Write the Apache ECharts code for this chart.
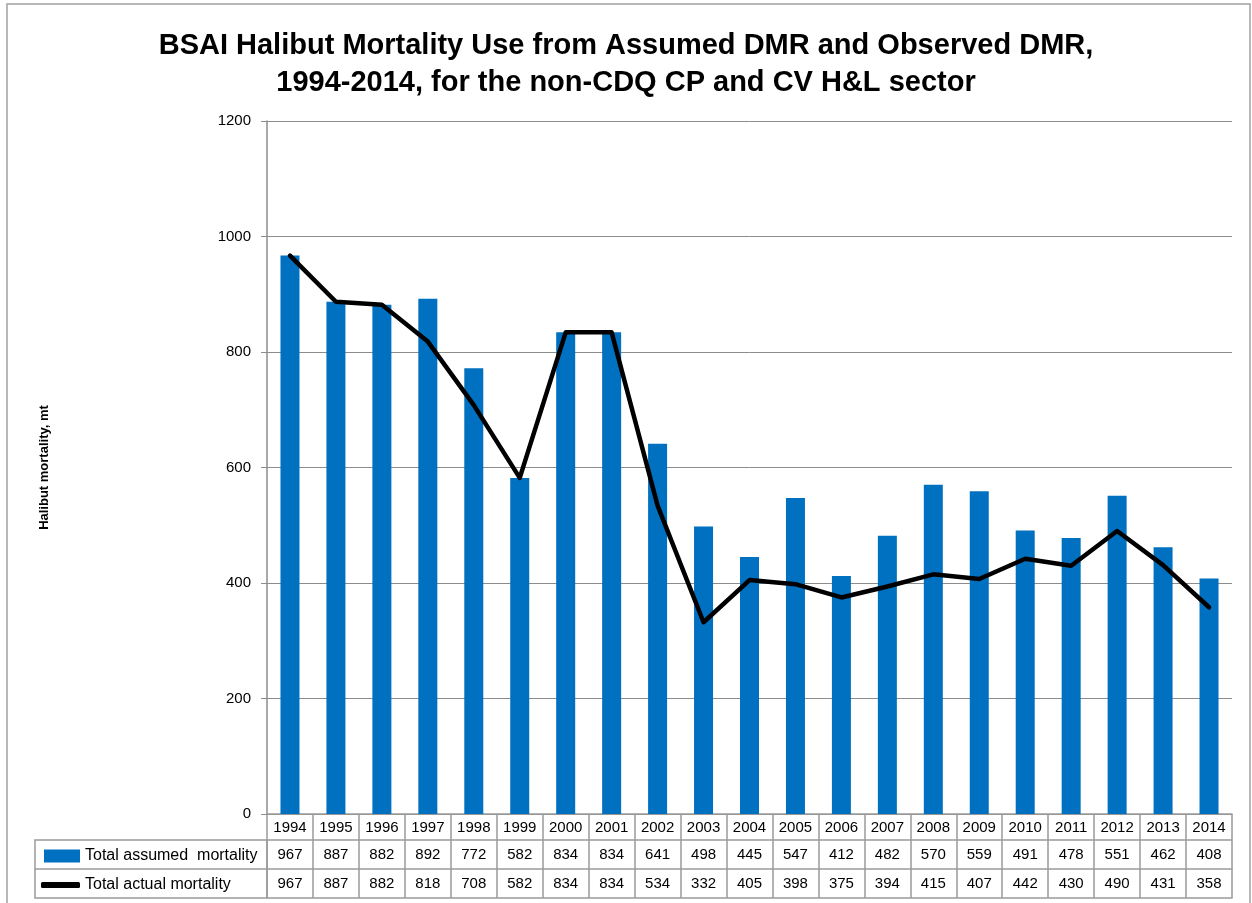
<!DOCTYPE html>
<html>
<head>
<meta charset="utf-8">
<script src="https://cdn.jsdelivr.net/npm/echarts@6/dist/echarts.min.js"></script>
<style>
  html, body { margin: 0; padding: 0; background: #fff; }
  #chart { width: 1252px; height: 903px; }
</style>
</head>
<body>
<div id="chart"></div>
<script>
// data
const years = ['1994', '1995', '1996', '1997', '1998', '1999', '2000', '2001', '2002', '2003', '2004',
  '2005', '2006', '2007', '2008', '2009', '2010', '2011', '2012', '2013', '2014']
const assumed = [967, 887, 882, 892, 772, 582, 834, 834, 641, 498, 445, 547, 412, 482, 570, 559, 491, 478, 551, 462, 408]
const actual = [967, 887, 882, 818, 708, 582, 834, 834, 534, 332, 405, 398, 375, 394, 415, 407, 442, 430, 490, 431, 358]
const yTicks = { min: 0, max: 1200, interval: 200 }

const GRID_LINE = '#8c8c8c'
const TABLE_LINE = '#9a9a9a'
const FONT = '"Liberation Sans", Arial, sans-serif'

// plot area / table geometry
const G = { left: 267, right: 20, top: 121, bottom: 89 }
const ROW1 = 26, ROW2 = 29, ROW3 = 29
const TABLE_LEFT = 35

const chart = echarts.init(document.getElementById('chart'))

const tableAxis = (data, offset, tickLen, showLabel) => ({
  type: 'category',
  data: data,
  position: 'bottom',
  offset: offset,
  axisLine: { show: true, lineStyle: { color: TABLE_LINE, width: 1.5 } },
  axisTick: { show: tickLen > 0, interval: 0, length: tickLen, lineStyle: { color: TABLE_LINE, width: 1.5 } },
  axisLabel: { show: showLabel, interval: 0, margin: 7, color: '#000', fontSize: 15, fontFamily: FONT },
  splitLine: { show: false },
})

const legendText = { color: '#000', fontSize: 16, fontFamily: FONT }

chart.setOption({
  animation: false,
  backgroundColor: '#fff',
  title: {
    text: 'BSAI Halibut Mortality Use from Assumed DMR and Observed DMR,\n1994-2014, for the non-CDQ CP and CV H&L sector',
    left: 'center',
    top: 22,
    textStyle: {
      fontFamily: '"Liberation Sans Narrow", "Liberation Sans", Arial, sans-serif',
      fontWeight: 'bold',
      fontSize: 29,
      lineHeight: 37,
      color: '#000',
    },
  },
  legend: [
    {
      left: 44,
      top: 848,
      padding: 0,
      itemWidth: 36,
      itemHeight: 13,
      itemGap: 5,
      selectedMode: false,
      textStyle: legendText,
      data: [{ name: 'Total assumed  mortality', icon: 'rect' }],
    },
    {
      left: 41,
      top: 877,
      padding: 0,
      itemWidth: 39,
      itemHeight: 6,
      itemGap: 5,
      selectedMode: false,
      textStyle: legendText,
      data: [{ name: 'Total actual mortality', icon: 'roundRect', itemStyle: { color: '#000' } }],
    },
  ],
  grid: { left: G.left, right: G.right, top: G.top, bottom: G.bottom },
  xAxis: [
    {
      type: 'category',
      data: years,
      axisLine: { show: true, lineStyle: { color: TABLE_LINE, width: 1.5 } },
      axisTick: { show: true, interval: 0, length: ROW1, lineStyle: { color: TABLE_LINE, width: 1.5 } },
      axisLabel: { interval: 0, margin: 6, color: '#000', fontSize: 15, fontFamily: FONT },
    },
    tableAxis(assumed.map(String), ROW1, ROW2, true),
    tableAxis(actual.map(String), ROW1 + ROW2, ROW3, true),
    tableAxis(years.map(() => ''), ROW1 + ROW2 + ROW3, 0, false),
  ],
  yAxis: {
    type: 'value',
    min: yTicks.min,
    max: yTicks.max,
    interval: yTicks.interval,
    name: 'Halibut mortality, mt',
    nameLocation: 'middle',
    nameGap: 216,
    nameTextStyle: { color: '#000', fontSize: 13, fontWeight: 'bold', fontFamily: FONT },
    axisLine: { show: true, lineStyle: { color: GRID_LINE, width: 1.5 } },
    axisTick: { show: true, length: 6, lineStyle: { color: GRID_LINE } },
    axisLabel: { margin: 16, color: '#000', fontSize: 15, fontFamily: FONT, formatter: (v) => String(v) },
    splitLine: { lineStyle: { color: GRID_LINE, width: 1 } },
  },
  series: [
    {
      name: 'Total assumed  mortality',
      type: 'bar',
      data: assumed,
      barWidth: 19,
      itemStyle: { color: '#0070C0' },
      z: 2,
    },
    {
      name: 'Total actual mortality',
      type: 'line',
      data: actual,
      symbol: 'none',
      lineStyle: { color: '#000', width: 4.5, cap: 'round', join: 'round' },
      itemStyle: { color: '#000' },
      z: 3,
    },
  ],
  graphic: [
    // outer chart frame
    {
      type: 'rect',
      shape: { x: 7, y: 4, width: 1243, height: 1000 },
      style: { fill: 'none', stroke: '#a0a0a0', lineWidth: 1.5 },
      silent: true,
    },
    // legend column of the data table
    {
      type: 'rect',
      shape: { x: TABLE_LEFT, y: 903 - G.bottom + ROW1, width: G.left - TABLE_LEFT, height: ROW2 + ROW3 },
      style: { fill: 'none', stroke: TABLE_LINE, lineWidth: 1.5 },
      silent: true,
    },
    {
      type: 'line',
      shape: { x1: TABLE_LEFT, y1: 903 - G.bottom + ROW1 + ROW2, x2: G.left, y2: 903 - G.bottom + ROW1 + ROW2 },
      style: { stroke: TABLE_LINE, lineWidth: 1.5 },
      silent: true,
    },
  ],
})
</script>
</body>
</html>
